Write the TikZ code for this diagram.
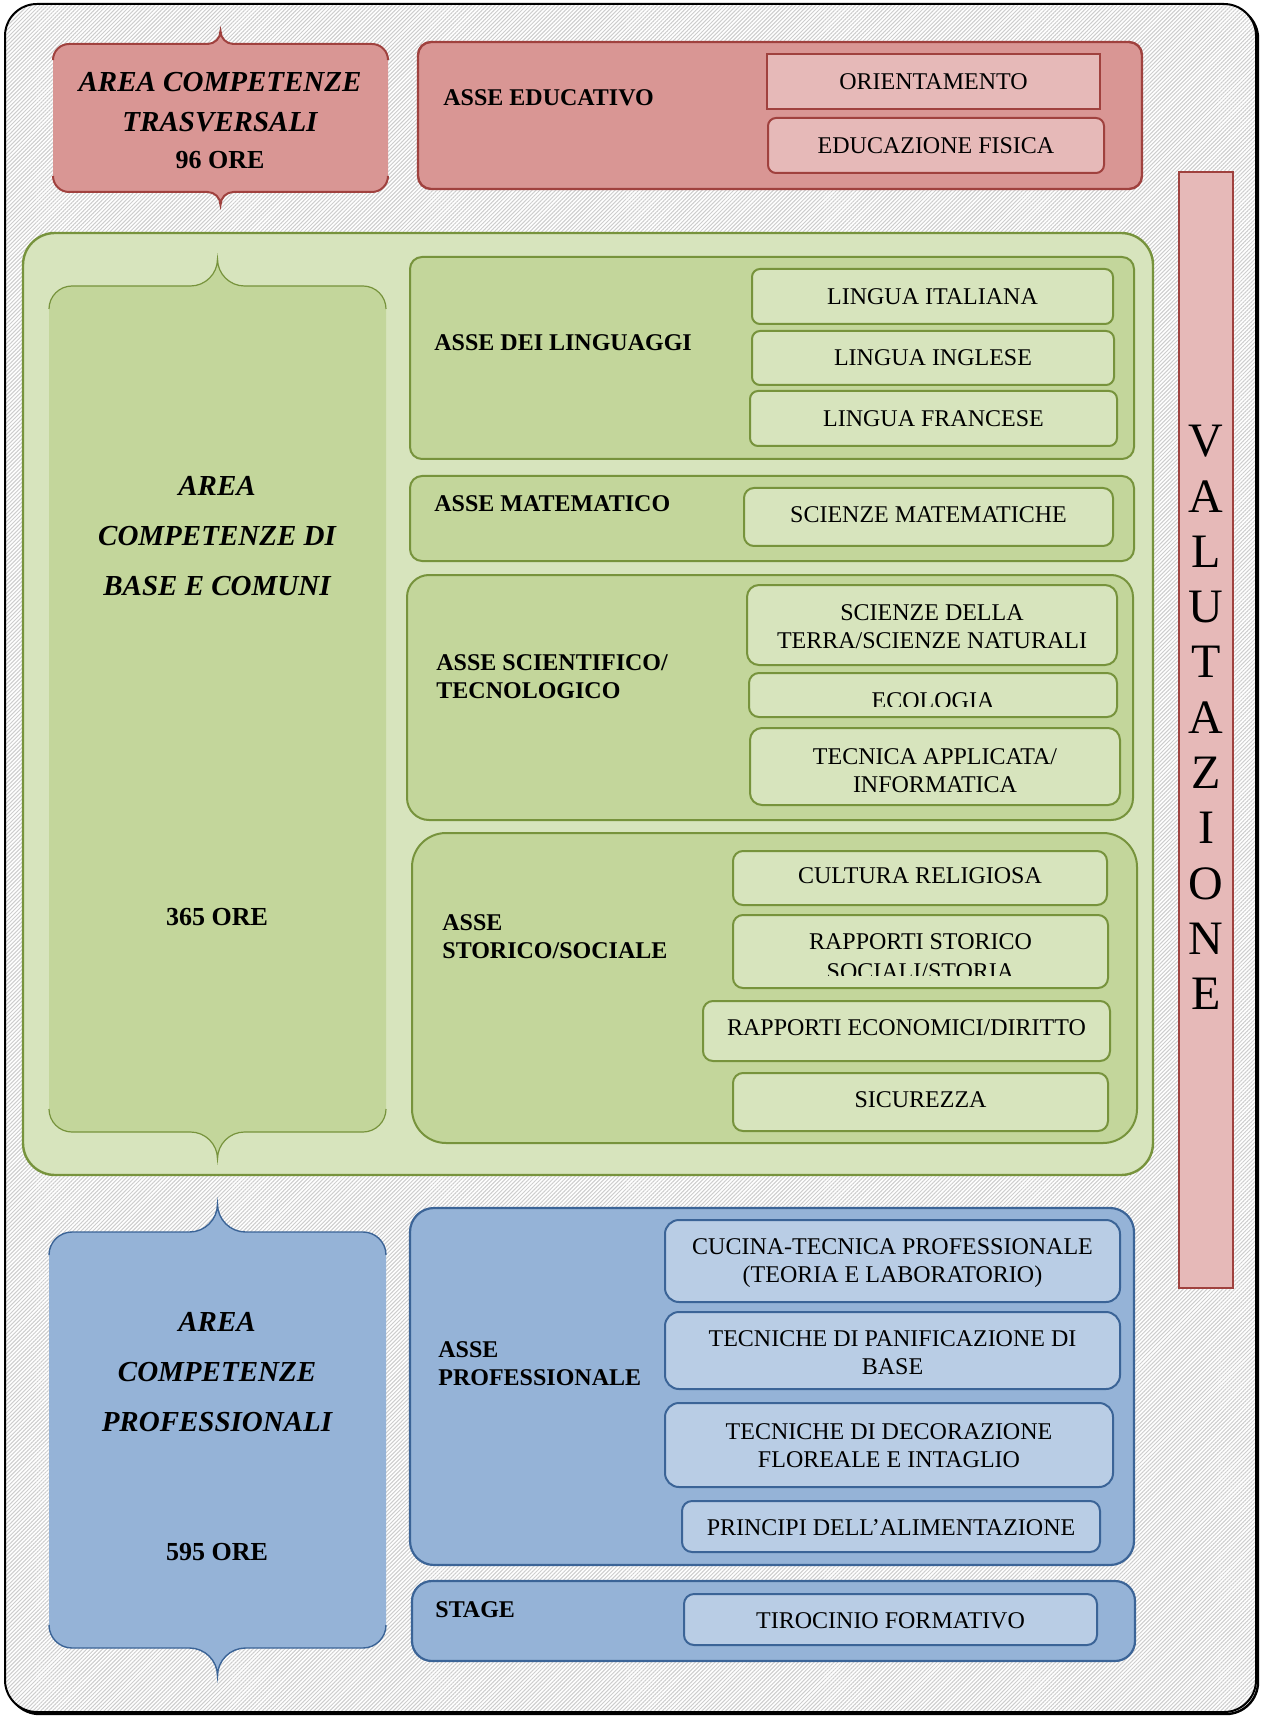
\documentclass[tikz,border=0pt]{standalone}
\usepackage{fontspec}
\setmainfont{Liberation Serif}
\usetikzlibrary{patterns.meta}
\definecolor{redfill}{HTML}{D99694}
\definecolor{redsub}{HTML}{E6B9B8}
\definecolor{redline}{HTML}{A0413E}
\definecolor{grlight}{HTML}{D7E4BD}
\definecolor{grmid}{HTML}{C3D69B}
\definecolor{grline}{HTML}{77933C}
\definecolor{blfill}{HTML}{95B3D7}
\definecolor{blsub}{HTML}{B9CDE5}
\definecolor{blline}{HTML}{3B6497}
\definecolor{hatch}{HTML}{CDCDCD}

% box node: name, style, x1, y1, x2, y2, text
\newcommand{\bx}[7]{\node[#2, minimum width={(#5-#3)*0.5pt}, minimum height={(#6-#4)*0.5pt}] (#1) at ({(#3+#5)/2},{(#4+#6)/2}) {#7};}

% brace box: x1 y1 x2 y2 r b fillstyle drawstyle
\newcommand{\bracebox}[8]{%
\begin{scope}
\pgfmathsetmacro{\bxa}{#1}%
\pgfmathsetmacro{\bya}{#2}%
\pgfmathsetmacro{\bxb}{#3}%
\pgfmathsetmacro{\byb}{#4}%
\pgfmathsetmacro{\bcx}{(#1+#3)/2}%
\pgfmathsetmacro{\bR}{#5}%
\pgfmathsetmacro{\bB}{#6}%
\pgfmathsetmacro{\bRk}{0.45*#5}%
\pgfmathsetmacro{\bBk}{0.45*#6}%
\fill[#7] (\bxa,{\bya+\bR}) .. controls (\bxa,{\bya+\bRk}) and ({\bxa+\bRk},\bya) .. ({\bxa+\bR},\bya)
 -- ({\bcx-\bB},\bya) .. controls ({\bcx-\bBk},\bya) and (\bcx,{\bya-\bBk}) .. (\bcx,{\bya-\bB})
 .. controls (\bcx,{\bya-\bBk}) and ({\bcx+\bBk},\bya) .. ({\bcx+\bB},\bya)
 -- ({\bxb-\bR},\bya) .. controls ({\bxb-\bRk},\bya) and (\bxb,{\bya+\bRk}) .. (\bxb,{\bya+\bR})
 -- (\bxb,{\byb-\bR}) .. controls (\bxb,{\byb-\bRk}) and ({\bxb-\bRk},\byb) .. ({\bxb-\bR},\byb)
 -- ({\bcx+\bB},\byb) .. controls ({\bcx+\bBk},\byb) and (\bcx,{\byb+\bBk}) .. (\bcx,{\byb+\bB})
 .. controls (\bcx,{\byb+\bBk}) and ({\bcx-\bBk},\byb) .. ({\bcx-\bB},\byb)
 -- ({\bxa+\bR},\byb) .. controls ({\bxa+\bRk},\byb) and (\bxa,{\byb-\bRk}) .. (\bxa,{\byb-\bR}) -- cycle;
\draw[#8] (\bxa,{\bya+\bR}) .. controls (\bxa,{\bya+\bRk}) and ({\bxa+\bRk},\bya) .. ({\bxa+\bR},\bya)
 -- ({\bcx-\bB},\bya) .. controls ({\bcx-\bBk},\bya) and (\bcx,{\bya-\bBk}) .. (\bcx,{\bya-\bB})
 .. controls (\bcx,{\bya-\bBk}) and ({\bcx+\bBk},\bya) .. ({\bcx+\bB},\bya)
 -- ({\bxb-\bR},\bya) .. controls ({\bxb-\bRk},\bya) and (\bxb,{\bya+\bRk}) .. (\bxb,{\bya+\bR});
\draw[#8] (\bxb,{\byb-\bR}) .. controls (\bxb,{\byb-\bRk}) and ({\bxb-\bRk},\byb) .. ({\bxb-\bR},\byb)
 -- ({\bcx+\bB},\byb) .. controls ({\bcx+\bBk},\byb) and (\bcx,{\byb+\bBk}) .. (\bcx,{\byb+\bB})
 .. controls (\bcx,{\byb+\bBk}) and ({\bcx-\bBk},\byb) .. ({\bcx-\bB},\byb)
 -- ({\bxa+\bR},\byb) .. controls ({\bxa+\bRk},\byb) and (\bxa,{\byb-\bRk}) .. (\bxa,{\byb-\bR});
\end{scope}}

\begin{document}
\begin{tikzpicture}[x=0.5pt,y=-0.5pt,
  box/.style={inner sep=0pt, outer sep=0pt, align=center, font=\fontsize{12}{14}\selectfont},
  redaxis/.style={box, fill=redfill, draw=redline, line width=1.2pt, rounded corners=6.5pt},
  redsubbox/.style={box, fill=redsub, draw=redline, line width=1pt},
  gouter/.style={box, fill=grlight, draw=grline, line width=1.2pt, rounded corners=16pt},
  gaxis/.style={box, fill=grmid, draw=grline, line width=1pt},
  gsub/.style={box, fill=grlight, draw=grline, line width=1pt, rounded corners=5pt},
  baxis/.style={box, fill=blfill, draw=blline, line width=1.1pt},
  bsub/.style={box, fill=blsub, draw=blline, line width=1pt, rounded corners=7pt},
  axislabel/.style={anchor=west, inner sep=0pt, align=left, font=\fontsize{12}{14}\selectfont\bfseries},
  arealabel/.style={inner sep=0pt, align=center, font=\fontsize{14.5}{25}\selectfont\bfseries\itshape},
  orelabel/.style={inner sep=0pt, font=\fontsize{13}{15}\selectfont\bfseries},
  subtext/.style={inner sep=0pt, align=center, font=\fontsize{12}{14}\selectfont}
]
\useasboundingbox (0,0) rectangle (1260,1716);
% outer frame with shadow
\draw[black, line width=1.2pt, rounded corners=16pt] (7.5,6.5) rectangle (1258,1714);
\fill[white, rounded corners=16pt] (5,4) rectangle (1256,1712);
\fill[pattern={Lines[angle=45,distance=1.4pt,line width=0.5pt]}, pattern color=hatch, rounded corners=16pt] (5,4) rectangle (1256,1712);
\draw[black, line width=1pt, rounded corners=16pt] (5,4) rectangle (1256,1712);

% ---------- red area ----------
\bracebox{53}{44}{388}{192}{16}{13}{redfill}{redline, line width=1pt}
\node[arealabel, font=\fontsize{14.5}{20}\selectfont\bfseries\itshape] (trasv) at (220,120.5) {AREA COMPETENZE\\TRASVERSALI\\[-1.5pt]{\upshape\fontsize{13}{20}\selectfont 96 ORE}};

\bx{asseedu}{redaxis}{418}{42}{1142}{189}{}
\node[axislabel] (asseedulab) at (443,98) {ASSE EDUCATIVO};
\bx{orient}{redsubbox}{767}{54}{1100}{109}{ORIENTAMENTO}
\bx{edufis}{redsubbox, rounded corners=4pt}{768}{118}{1104}{173}{EDUCAZIONE FISICA}

\bx{valut}{redsubbox}{1179}{172}{1233}{1288}{}
\node[inner sep=0pt, align=center, font=\fontsize{24}{27.65}\selectfont] (valtext) at (1206,717.5) {V\\A\\L\\U\\T\\A\\Z\\I\\O\\N\\E};

% ---------- green area ----------
\bx{gouter}{gouter}{23}{233}{1153}{1175}{}
\bracebox{49}{286}{386}{1132}{23}{27}{grmid}{grline, line width=0.6pt}
\node[arealabel] (areabase) at (217,536) {AREA\\COMPETENZE DI\\BASE E COMUNI};
\node[orelabel] (ore365) at (217,917) {365 ORE};

\bx{ling}{gaxis, rounded corners=6pt}{410}{257}{1134}{459}{}
\node[axislabel] (linglab) at (434,343) {ASSE DEI LINGUAGGI};
\bx{lit}{gsub, rounded corners=4pt}{752}{269}{1113}{324}{LINGUA ITALIANA}
\bx{ling2}{gsub, rounded corners=4pt}{752}{331}{1114}{385}{LINGUA INGLESE}
\bx{lfr}{gsub, rounded corners=4pt}{750}{391}{1117}{446}{LINGUA FRANCESE}

\bx{mat}{gaxis, rounded corners=6pt}{410}{476}{1134}{561}{}
\node[axislabel] (matlab) at (434,504) {ASSE MATEMATICO};
\bx{scimat}{gsub}{744}{488}{1113}{546}{}
\node[subtext] (scimattext) at (928.5,515) {SCIENZE MATEMATICHE};

\bx{sci}{gaxis, rounded corners=11pt}{407}{575}{1133}{820}{}
\node[axislabel] (scilab) at (436,677) {ASSE SCIENTIFICO/\\TECNOLOGICO};
\bx{terra}{gsub, rounded corners=6pt}{747}{585}{1117}{665}{}
\node[subtext] (terratext) at (932,627) {SCIENZE DELLA\\TERRA/SCIENZE NATURALI};
\bx{ecol}{gsub}{749}{673}{1117}{717}{}
\begin{scope}
\clip (749,673) rectangle (1117,706);
\node[subtext] (ecoltext) at (933,701) {ECOLOGIA};
\end{scope}
\bx{tecn}{gsub, rounded corners=6pt}{750}{728}{1120}{805}{}
\node[subtext] (tecntext) at (935,771) {TECNICA APPLICATA/\\INFORMATICA};

\bx{stor}{gaxis, rounded corners=17pt}{412}{833}{1137}{1143}{}
\node[axislabel] (storlab) at (442,937) {ASSE\\STORICO/SOCIALE};
\bx{cult}{gsub}{733}{851}{1107}{905}{}
\node[subtext] (culttext) at (920,876) {CULTURA RELIGIOSA};
\bx{rapst}{gsub}{733}{915}{1108}{988}{}
\begin{scope}
\clip (733,915) rectangle (1108,975);
\node[subtext, font=\fontsize{12}{14.75}\selectfont] (rapsttext) at (920.5,956.5) {RAPPORTI STORICO\\SOCIALI/STORIA};
\end{scope}
\bx{rapec}{gsub}{703}{1001}{1110}{1061}{}
\node[subtext] (rapectext) at (906.5,1027.5) {RAPPORTI ECONOMICI/DIRITTO};
\bx{sicur}{gsub}{733}{1073}{1108}{1131}{}
\node[subtext] (sicurtext) at (920.5,1100) {SICUREZZA};

% ---------- blue area ----------
\bracebox{49}{1232}{386}{1648}{23}{28}{blfill}{blline, line width=0.7pt}
\node[arealabel] (areaprof) at (217,1372) {AREA\\COMPETENZE\\PROFESSIONALI};
\node[orelabel] (ore595) at (217,1552) {595 ORE};

\bx{prof}{baxis, rounded corners=12pt}{410}{1208}{1134}{1565}{}
\node[axislabel] (proflab) at (438,1364) {ASSE\\PROFESSIONALE};
\bx{cucina}{bsub}{665}{1220}{1120}{1302}{}
\node[subtext] (cucinatext) at (892.5,1263) {CUCINA-TECNICA PROFESSIONALE\\(TEORIA E LABORATORIO)};
\bx{panif}{bsub}{665}{1312}{1120}{1389}{}
\node[subtext] (paniftext) at (892.5,1352.5) {TECNICHE DI PANIFICAZIONE DI\\BASE};
\bx{decor}{bsub}{665}{1403}{1113}{1487}{}
\node[subtext] (decortext) at (889,1446) {TECNICHE DI DECORAZIONE\\FLOREALE E INTAGLIO};
\bx{princ}{bsub, rounded corners=5pt}{682}{1501}{1100}{1552}{}
\node[subtext] (princtext) at (891,1527.5) {PRINCIPI DELL’ALIMENTAZIONE};

\bx{stage}{baxis, rounded corners=10pt}{412}{1581}{1135}{1661}{}
\node[axislabel] (stagelab) at (435,1610) {STAGE};
\bx{tiroc}{bsub, rounded corners=5pt}{684}{1594}{1097}{1645}{}
\node[subtext] (tiroctext) at (890.5,1620.5) {TIROCINIO FORMATIVO};
\end{tikzpicture}
\end{document}
